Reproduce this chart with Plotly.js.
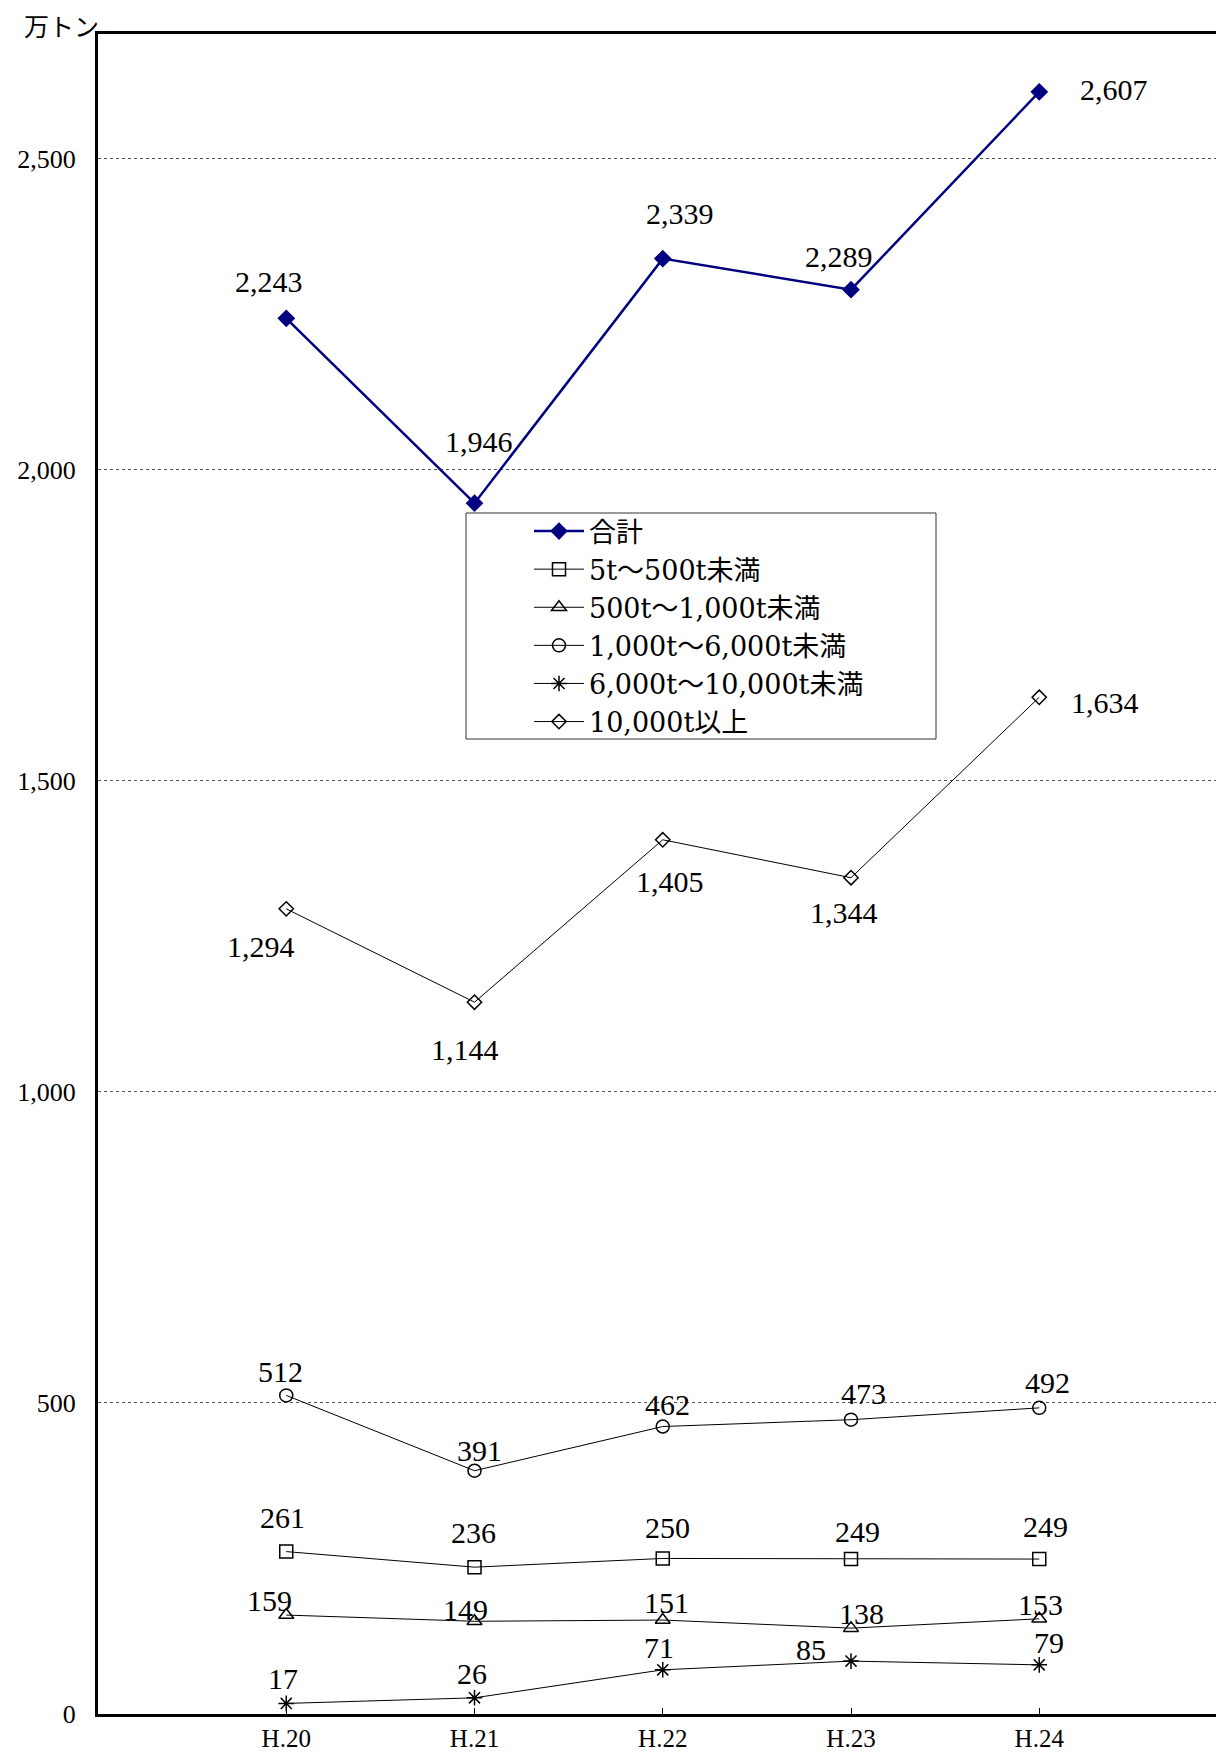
<!DOCTYPE html>
<html>
<head>
<meta charset="utf-8">
<script src="https://cdn.plot.ly/plotly-3.0.1.min.js"></script>
<style>
  html, body { margin: 0; padding: 0; background: #fff; }
  #chart { width: 1216px; height: 1756px; }
</style>
</head>
<body>
<div id="chart"></div>
<script>
// 年度別・船型別の輸送量（万トン）
const years = ['H.20', 'H.21', 'H.22', 'H.23', 'H.24'];
const total = [2243, 1946, 2339, 2289, 2607];
const s5to500 = [261, 236, 250, 249, 249];
const s500to1000 = [159, 149, 151, 138, 153];
const s1000to6000 = [512, 391, 462, 473, 492];
const s6000to10000 = [17, 26, 71, 85, 79];
const s10000plus = [1294, 1144, 1405, 1344, 1634];
const seriesNames = ['合計', '5t〜500t未満', '500t〜1,000t未満', '1,000t〜6,000t未満', '6,000t〜10,000t未満', '10,000t以上'];
const yTicks = [0, 500, 1000, 1500, 2000, 2500];
const unitLabel = '万トン';

const FONT = 'Liberation Serif, "Noto Sans CJK JP", serif';
const LEGEND_FONT = '"DejaVu Serif", "Noto Sans CJK JP", serif';
const fmt = v => v.toLocaleString('en-US');

// plot box in pixels
const M = { l: 98, r: 0, t: 34, b: 42 };
const W = 1216, H = 1756;
const plotW = W - M.l - M.r, plotH = H - M.t - M.b;
const px2x = px => (px - M.l) / plotW;
const px2y = py => (H - M.b - py) / plotH;

const series = [
  { y: total, name: seriesNames[0], color: '#000080', width: 2.5, symbol: 'diamond', size: 12,
    off: [[-17, -37], [4, -62], [17, -45], [-12, -33], [75, -2]] },
  { y: s5to500, name: seriesNames[1], color: '#000', width: 1, symbol: 'square-open', size: 13,
    off: [[-4, -34], [-1, -35], [5, -31], [6, -28], [6, -33]] },
  { y: s500to1000, name: seriesNames[2], color: '#000', width: 1, symbol: 'triangle-up-open', size: 13,
    off: [[-17, -15], [-9, -12], [4, -18], [10, -15], [1, -14]] },
  { y: s1000to6000, name: seriesNames[3], color: '#000', width: 1, symbol: 'circle-open', size: 13,
    off: [[-6, -24], [5, -20], [5, -22], [12, -26], [8, -25]] },
  { y: s6000to10000, name: seriesNames[4], color: '#000', width: 1, symbol: 'asterisk-open', size: 13,
    off: [[-3, -25], [-3, -24], [-4, -22], [-40, -12], [10, -22]] },
  { y: s10000plus, name: seriesNames[5], color: '#000', width: 1, symbol: 'diamond-open', size: 11,
    off: [[-25, 38], [-10, 47], [7, 42], [-7, 35], [66, 5]] }
];

const traces = series.map(s => ({
  type: 'scatter',
  mode: 'lines+markers',
  x: years,
  y: s.y,
  name: s.name,
  line: { color: s.color, width: s.width },
  marker: { symbol: s.symbol, size: s.size, color: s.color, line: { color: s.color, width: 1.5 } },
  hoverinfo: 'x+y+name'
}));

// value labels beside each point
const annotations = [];
series.forEach(s => {
  s.y.forEach((v, i) => {
    annotations.push({
      x: i, y: v, xref: 'x', yref: 'y',
      text: fmt(v), showarrow: false,
      xanchor: 'center', yanchor: 'middle',
      xshift: s.off[i][0], yshift: -s.off[i][1],
      font: { family: FONT, size: 30, color: '#000' }
    });
  });
});

// unit label above the y axis
annotations.push({
  x: px2x(61), y: px2y(27), xref: 'paper', yref: 'paper',
  xanchor: 'center', yanchor: 'middle',
  text: unitLabel, showarrow: false,
  font: { family: FONT, size: 25, color: '#000' }
});

// legend frame
const shapes = [{
  type: 'rect', xref: 'paper', yref: 'paper',
  x0: px2x(466), x1: px2x(936), y0: px2y(739), y1: px2y(513),
  line: { color: '#333', width: 1 }, fillcolor: '#fff', layer: 'above'
}];

const step = 188.25; // px per category
const layout = {
  width: W, height: H,
  margin: M,
  paper_bgcolor: '#fff', plot_bgcolor: '#fff',
  font: { family: FONT, color: '#000' },
  showlegend: true,
  legend: {
    x: px2x(529), y: px2y(507), xanchor: 'left', yanchor: 'top',
    bgcolor: 'rgba(0,0,0,0)', borderwidth: 0,
    font: { family: LEGEND_FONT, size: 27, color: '#000' },
    itemwidth: 50, tracegroupgap: 0
  },
  xaxis: {
    type: 'category',
    range: [-1, -1 + plotW / step],
    showline: true, linecolor: '#000', linewidth: 3, mirror: true,
    showgrid: false, zeroline: false,
    ticks: 'inside', ticklen: 6, tickcolor: '#000', tickwidth: 1,
    tickfont: { family: FONT, size: 25, color: '#000' },
    ticklabelstandoff: 0
  },
  yaxis: {
    range: [0, 2700],
    tickvals: yTicks, ticktext: yTicks.map(fmt),
    showline: true, linecolor: '#000', linewidth: 3,
    showgrid: true, gridcolor: '#555', gridwidth: 1, griddash: 'dot',
    zeroline: false, ticks: '',
    tickfont: { family: FONT, size: 26, color: '#000' },
    ticklabelstandoff: 14
  },
  annotations: annotations,
  shapes: shapes
};

Plotly.newPlot('chart', traces, layout, { displayModeBar: false, staticPlot: true });
</script>
</body>
</html>
